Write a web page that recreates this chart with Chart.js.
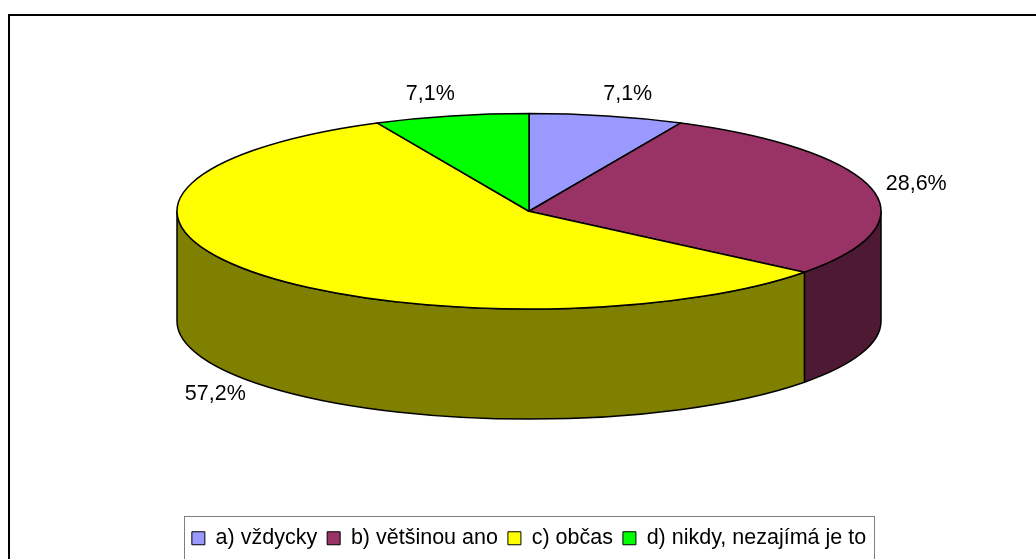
<!DOCTYPE html>
<html>
<head>
<meta charset="utf-8">
<script src="https://cdn.jsdelivr.net/npm/chart.js@4.4.1/dist/chart.umd.min.js"></script>
<style>
  html, body { margin: 0; padding: 0; background: #fff; overflow: hidden; }
  /* canvas starts above the window so the pie sits high, like the original */
  #wrap { position: absolute; left: 0; top: -95px; width: 1036px; height: 654px; }
</style>
</head>
<body>
<div id="wrap"><canvas id="myChart"></canvas></div>
<script>
const labels = ['a) vždycky', 'b) většinou ano', 'c) občas', 'd) nikdy, nezajímá je to'];
const values = [7.1, 28.6, 57.2, 7.1];
const topColors = ['#9999ff', '#993366', '#ffff00', '#00ff00'];
const sideColors = ['#4d4d80', '#4d1933', '#808000', '#008000'];

const FONT = '"Liberation Sans", Arial, sans-serif';
const shiftY = 95;    // canvas offset above the window
const tilt = 0.278;   // vertical squash of the pie
const depth = 110;    // thickness of the 3d pie

// draws the pie as a tilted disc using the arc angles from Chart.js
const pie3d = {
    id: 'pie3d',
    beforeDatasetsDraw: function (chart) {
        const ctx = chart.ctx;
        const arcs = chart.getDatasetMeta(0).data;
        const cx = arcs[0].x, cy = arcs[0].y;
        const rx = arcs[0].outerRadius, ry = rx * tilt;
        ctx.save();
        ctx.lineWidth = 1.5;
        ctx.strokeStyle = '#000';
        ctx.lineJoin = 'round';

        // front walls (only the half facing us)
        arcs.forEach(function (arc, i) {
            [-2 * Math.PI, 0, 2 * Math.PI].forEach(function (k) {
                const lo = Math.max(arc.startAngle, k);
                const hi = Math.min(arc.endAngle, Math.PI + k);
                if (hi - lo > 0.0001) {
                    ctx.beginPath();
                    ctx.ellipse(cx, cy, rx, ry, 0, lo - k, hi - k);
                    ctx.ellipse(cx, cy + depth, rx, ry, 0, hi - k, lo - k, true);
                    ctx.closePath();
                    ctx.fillStyle = sideColors[i];
                    ctx.fill();
                    ctx.stroke();
                }
            });
        });

        // top faces
        arcs.forEach(function (arc, i) {
            ctx.beginPath();
            ctx.moveTo(cx, cy);
            ctx.ellipse(cx, cy, rx, ry, 0, arc.startAngle, arc.endAngle);
            ctx.closePath();
            ctx.fillStyle = topColors[i];
            ctx.fill();
            ctx.stroke();
        });

        // percentage labels
        ctx.fillStyle = '#000';
        ctx.font = '21.5px ' + FONT;
        ctx.textAlign = 'center';
        ctx.textBaseline = 'middle';
        arcs.forEach(function (arc, i) {
            const a = (arc.startAngle + arc.endAngle) / 2;
            const c = Math.cos(a), s = Math.sin(a);
            const lx = cx + c * (rx + 31) + Math.sign(c) * 14;
            const ly = cy + s * (ry + 21) + (s > 0 ? depth : 0) - 1;
            ctx.fillText(values[i].toFixed(1).replace('.', ',') + '%', lx, ly);
        });
        ctx.restore();
        return false;
    },
    afterDraw: function (chart) {
        const ctx = chart.ctx;
        ctx.save();
        // outer frame
        ctx.strokeStyle = '#000';
        ctx.lineWidth = 2;
        ctx.strokeRect(9, 15 + shiftY, 2000, 2000);
        // legend frame
        const hb = chart.legend.legendHitBoxes;
        if (hb && hb.length) {
            const first = hb[0], last = hb[hb.length - 1];
            const left = Math.round(first.left - 8) + 0.5;
            const right = Math.round(last.left + last.width + 8) + 0.5;
            const top = Math.round(first.top - 12) + 0.5;
            ctx.strokeStyle = '#808080';
            ctx.lineWidth = 1;
            ctx.strokeRect(left, top, right - left, 200);
        }
        ctx.restore();
    }
};

const data = {
    labels: labels,
    datasets: [{
        data: values,
        backgroundColor: topColors,
        borderColor: '#000',
        borderWidth: 1,
        radius: 352
    }]
};

const config = {
    type: 'pie',
    data: data,
    options: {
        responsive: true,
        maintainAspectRatio: false,
        animation: false,
        devicePixelRatio: 1,
        layout: {
            padding: { left: 22, top: 0, right: 0, bottom: 0 }
        },
        plugins: {
            tooltip: { enabled: false },
            legend: {
                position: 'bottom',
                labels: {
                    color: '#000',
                    font: { family: FONT, size: 21.5 },
                    boxWidth: 13,
                    boxHeight: 13,
                    padding: 10
                }
            }
        }
    },
    plugins: [pie3d]
};

let myChart = new Chart(document.getElementById('myChart'), config);
</script>
</body>
</html>
